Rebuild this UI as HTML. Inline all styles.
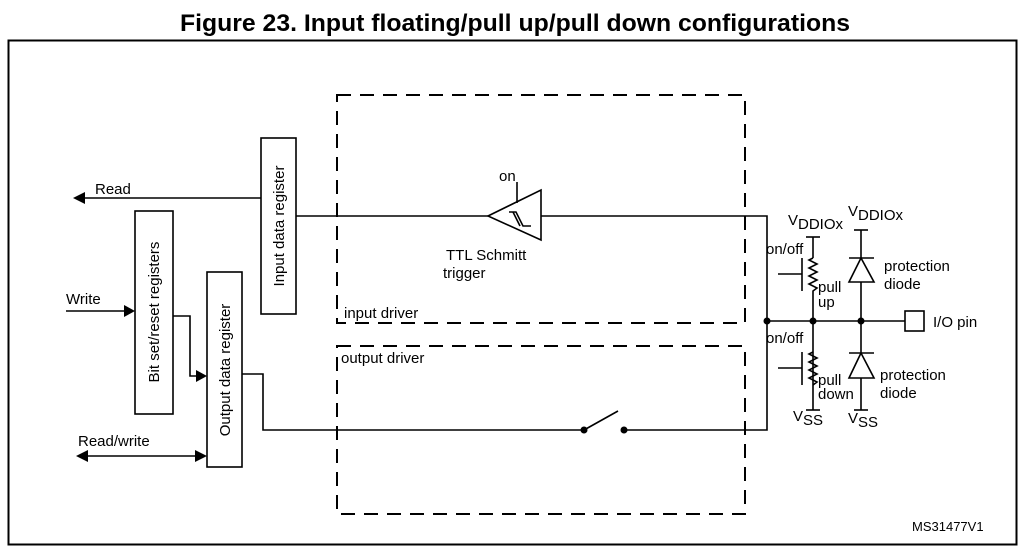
<!DOCTYPE html>
<html><head><meta charset="utf-8"><style>
html,body{margin:0;padding:0;background:#fff;}
svg{display:block;}
text{font-family:"Liberation Sans",Arial,sans-serif;fill:#000;}
</style></head><body>
<svg width="1024" height="548" viewBox="0 0 1024 548" xmlns="http://www.w3.org/2000/svg">
<text x="515" y="31" text-anchor="middle" font-size="24.5" font-weight="bold" textLength="670" lengthAdjust="spacingAndGlyphs">Figure 23. Input floating/pull up/pull down configurations</text>
<rect x="8.5" y="40.5" width="1008" height="504" fill="none" stroke="#000" stroke-width="2"/>
<g fill="none" stroke="#000" stroke-width="2" stroke-dasharray="14,9">
<rect x="337" y="95" width="408" height="228"/>
<rect x="337" y="346" width="408" height="168"/>
</g>
<g fill="none" stroke="#000" stroke-width="1.6">
<rect x="261" y="138" width="35" height="176"/>
<rect x="135" y="211" width="38" height="203"/>
<rect x="207" y="272" width="35" height="195"/>
<polyline points="261,198 80,198"/>
<polyline points="66,311 128,311"/>
<polyline points="173,316 190,316 190,376 200,376"/>
<polyline points="82,456 200,456"/>
<polyline points="296,216 488,216"/>
<polygon points="488,216 541,190 541,240"/>
<polyline points="517,182 517,203"/>
<polyline points="509,212 516,212 523,226 531,226"/>
<polyline points="513,212 520,226"/>
<polyline points="541,216 767,216 767,430 624,430"/>
<polyline points="242,374 263,374 263,430 584,430"/>
<line x1="584" y1="430" x2="618" y2="411"/>
<line x1="767" y1="321" x2="905" y2="321"/>
<rect x="905" y="311" width="19" height="20"/>
<line x1="813" y1="237" x2="813" y2="258"/>
<line x1="806" y1="237" x2="820" y2="237"/>
<polyline points="813,258 809,260 817,264 809,268 817,272 809,276 817,280 809,284 817,288 813,291 813,410"/>
<line x1="806" y1="410" x2="820" y2="410"/>
<polyline points="813,352 809,354 817,358 809,362 817,366 809,370 817,374 809,378 817,382 813,385"/>
<line x1="802" y1="258" x2="802" y2="291"/>
<line x1="778" y1="274" x2="802" y2="274"/>
<line x1="802" y1="352" x2="802" y2="385"/>
<line x1="778" y1="368" x2="802" y2="368"/>
<line x1="861" y1="230" x2="861" y2="410"/>
<line x1="854" y1="230" x2="868" y2="230"/>
<line x1="854" y1="410" x2="868" y2="410"/>
<line x1="849" y1="258" x2="874" y2="258"/>
<polygon points="861,258 849,282 874,282" fill="#fff"/>
<line x1="849" y1="353" x2="874" y2="353"/>
<polygon points="861,353 849,378 874,378" fill="#fff"/>
</g>
<g fill="#000">
<polygon points="73,198 85,192 85,204"/>
<polygon points="135,311 124,305 124,317"/>
<polygon points="207,376 196,370 196,382"/>
<polygon points="76,456 88,450 88,462"/>
<polygon points="207,456 195,450 195,462"/>
<circle cx="584" cy="430" r="3.5"/>
<circle cx="624" cy="430" r="3.5"/>
<circle cx="767" cy="321" r="3.5"/>
<circle cx="813" cy="321" r="3.5"/>
<circle cx="861" cy="321" r="3.5"/>
</g>
<g font-size="15">
<text x="95" y="194">Read</text>
<text x="66" y="304">Write</text>
<text x="78" y="446">Read/write</text>
<text x="284" y="226" text-anchor="middle" transform="rotate(-90 284 226)">Input data register</text>
<text x="159" y="312" text-anchor="middle" transform="rotate(-90 159 312)">Bit set/reset registers</text>
<text x="230" y="370" text-anchor="middle" transform="rotate(-90 230 370)">Output data register</text>
<text x="499" y="181">on</text>
<text x="446" y="260">TTL Schmitt</text>
<text x="443" y="278">trigger</text>
<text x="344" y="318">input driver</text>
<text x="341" y="363">output driver</text>
<text x="766" y="254">on/off</text>
<text x="766" y="343">on/off</text>
<text x="818" y="292">pull</text>
<text x="818" y="307">up</text>
<text x="818" y="385">pull</text>
<text x="818" y="399">down</text>
<text x="884" y="271">protection</text>
<text x="884" y="289">diode</text>
<text x="880" y="380">protection</text>
<text x="880" y="398">diode</text>
<text x="933" y="327">I/O pin</text>
<text x="788" y="225">V<tspan dy="4">DDIOx</tspan></text>
<text x="848" y="216">V<tspan dy="4">DDIOx</tspan></text>
<text x="793" y="421">V<tspan dy="4">SS</tspan></text>
<text x="848" y="423">V<tspan dy="4">SS</tspan></text>
<text x="912" y="531" font-size="13">MS31477V1</text>
</g>
</svg>
</body></html>
